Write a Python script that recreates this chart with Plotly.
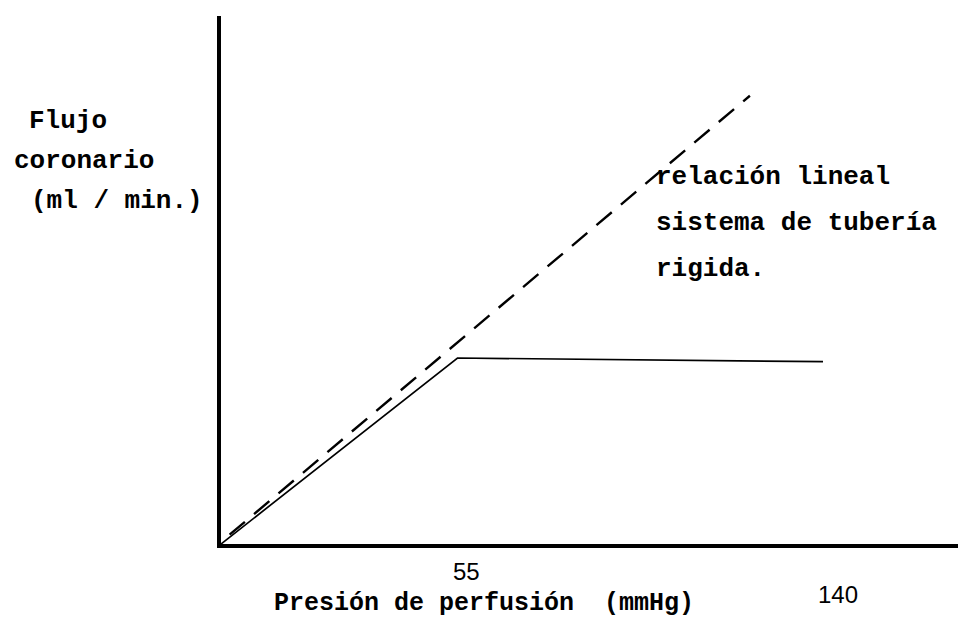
import plotly.graph_objects as go

# Data (arbitrary flow units vs perfusion pressure in mmHg)
solid_x = [0, 55, 140]
solid_y = [0, 100, 98]
dashed_x = [2, 123]
dashed_y = [5, 241]
tick_labels = ["55", "140"]
tick_pos = [55, 140]

W, H = 966, 620
left_px, right_px, top_px, bottom_px = 213, 966, 8, 536
kx = 4.3    # px per mmHg
ky = 1.86   # px per flow unit

def fx(px):
    return px / W

def fy(py):
    return 1 - py / H

fig = go.Figure()
fig.add_trace(go.Scatter(x=solid_x, y=solid_y, mode="lines",
                         line=dict(color="black", width=1.7), showlegend=False,
                         hoverinfo="skip"))
fig.add_trace(go.Scatter(x=dashed_x, y=dashed_y, mode="lines",
                         line=dict(color="black", width=2.4, dash="20px,12px"),
                         showlegend=False, hoverinfo="skip"))

mono = "Courier New, Courier, Liberation Mono, monospace"
sans = "Liberation Sans, Arial, sans-serif"
ann = []
def txt(s, px, py, size, fam, bold=True, anchor="left"):
    ann.append(dict(text=(f"<b>{s}</b>" if bold else s), x=fx(px), y=fy(py),
                    xref="paper", yref="paper", xanchor=anchor, yanchor="middle",
                    showarrow=False, borderpad=0,
                    font=dict(family=fam, size=size, color="black")))

txt("Flujo", 20, 113, 26, mono)
txt("coronario", 5, 153, 26, mono)
txt("(ml / min.)", 22, 193, 26, mono)
txt("relación lineal", 647, 169, 26, mono)
txt("sistema de tubería", 647, 215, 26, mono)
txt("rigida.", 647, 261, 26, mono)
txt("Presión de perfusión  (mmHg)", 265, 595, 25, mono)

# tick labels placed at their data positions
for lab, pos, py in zip(tick_labels, tick_pos, [563, 586]):
    ann.append(dict(text=lab, x=pos, y=fy(py), xref="x", yref="paper",
                    xanchor="left", yanchor="middle", showarrow=False,
                    xshift=-6, borderpad=0,
                    font=dict(family=sans, size=24, color="black")))

x_range = [0, (right_px - left_px) / kx]
y_range = [0, (bottom_px - top_px) / ky]

fig.update_layout(
    width=W, height=H, margin=dict(l=0, r=0, t=0, b=0),
    paper_bgcolor="white", plot_bgcolor="white",
    annotations=ann,
    xaxis=dict(domain=[fx(left_px), 1], range=x_range, showgrid=False,
               zeroline=False, showticklabels=False, ticks="",
               showline=True, linecolor="black", linewidth=4),
    yaxis=dict(domain=[fy(bottom_px), fy(top_px)], range=y_range, showgrid=False,
               zeroline=False, showticklabels=False, ticks="",
               showline=True, linecolor="black", linewidth=4),
)
fig.write_html("out.html")
